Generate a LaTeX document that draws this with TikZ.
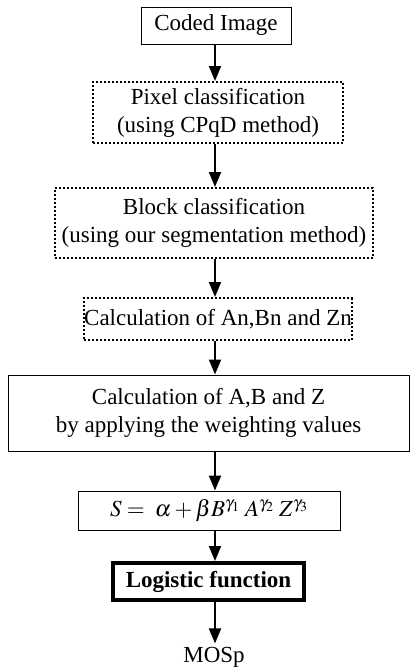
\documentclass[tikz,border=0pt]{standalone}
\usepackage{mathptmx}
\usepackage{fontspec}
\setmainfont{Liberation Serif}
\usepackage{tikz}
\usetikzlibrary{arrows.meta,positioning}

\begin{document}
\begin{tikzpicture}[x=1pt, y=-1pt,
    every node/.style={font=\fontsize{23}{28}\selectfont},
    box/.style={draw, line width=1pt, inner sep=0pt, align=center},
    dotbox/.style={box, line width=2pt, dash pattern=on 2pt off 2pt},
    thickbox/.style={box, line width=4pt},
    arr/.style={-{Triangle[length=15pt, width=12pt]}, line width=2pt}
]
\useasboundingbox (0,0) rectangle (418,672);
\coordinate (spine) at (215,0);
\node[box, minimum width=150pt, minimum height=37pt] (coded) at (216,25.5) {Coded Image};
\node[dotbox, minimum width=250pt, minimum height=61pt] (pixel) at (218,112.5) {Pixel classification\\(using CPqD method)};
\node[dotbox, minimum width=318pt, minimum height=70pt] (block) at (214,223) {Block classification\\(using our segmentation method)};
\node[dotbox, minimum width=250pt, minimum height=42pt] (anbn) at (218,319) {Calculation of An,Bn and Zn};
\node[box, minimum width=401pt, minimum height=76pt] (abz) at (208.5,413) {Calculation of A,B and Z\\by applying the weighting values};
\node[box, minimum width=262pt, minimum height=39pt] (smodel) at (209,510.5) {$S =\; \alpha +\beta B^{\gamma_1}\;A^{\gamma_2}\;Z^{\gamma_3}$};
\node[thickbox, minimum width=191pt, minimum height=37pt] (logistic) at (208.5,581.5) {\textbf{Logistic function}};
\node (mosp) at (214,657) {MOSp};
% vertical connectors along the spine
\draw[arr] (coded.south -| spine) -- (pixel.north -| spine);
\draw[arr] (pixel.south -| spine) -- (block.north -| spine);
\draw[arr] (block.south -| spine) -- (anbn.north -| spine);
\draw[arr] (anbn.south -| spine) -- (abz.north -| spine);
\draw[arr] (abz.south -| spine) -- (smodel.north -| spine);
\draw[arr] (smodel.south -| spine) -- (logistic.north -| spine);
\draw[arr] (logistic.south -| spine) -- (mosp.north -| spine);
\end{tikzpicture}
\end{document}
